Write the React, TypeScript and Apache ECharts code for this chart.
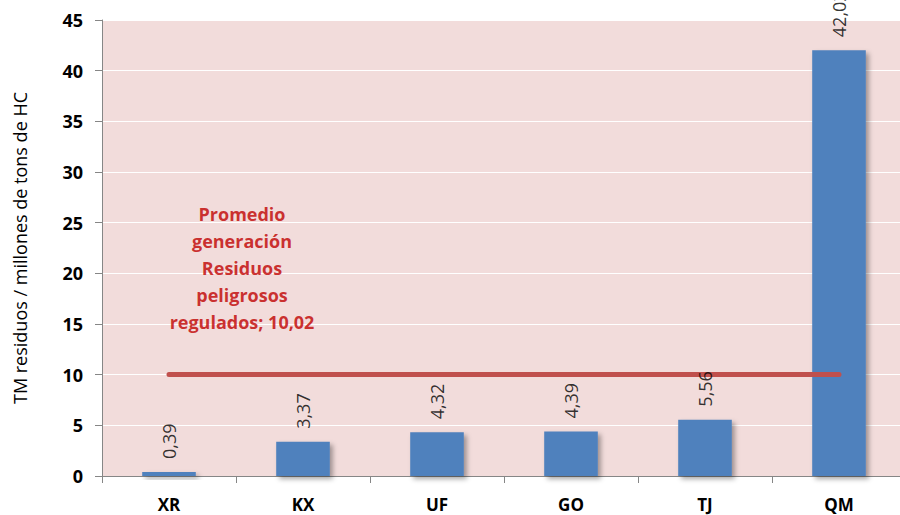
import React, { useEffect, useRef } from "react";
import * as echarts from "echarts";

const categories = ["XR", "KX", "UF", "GO", "TJ", "QM"];
const values = [0.39, 3.37, 4.32, 4.39, 5.56, 42.02];
const averageValue = 10.02;
const averageName = "Promedio\ngeneración\nResiduos\npeligrosos\nregulados";
const yAxisTitle = "TM residuos / millones de tons de HC";

const fmt = (v: number) => v.toFixed(2).replace(".", ",");

export default function App() {
  const ref = useRef<HTMLDivElement>(null);
  useEffect(() => {
    if (!ref.current) return;
    const chart = echarts.init(ref.current, null, { renderer: "svg" });
    const font = "'Open Sans', 'Liberation Sans', sans-serif";
    chart.setOption({
      animation: false,
      backgroundColor: "#ffffff",
      textStyle: { fontFamily: font },
      grid: {
        left: 102,
        right: 0,
        top: 20,
        bottom: 39,
        show: true,
        backgroundColor: "#f2dcdb",
        borderWidth: 0,
      },
      xAxis: {
        type: "category",
        data: categories,
        axisLine: { show: true, lineStyle: { color: "#868686", width: 1 } },
        axisTick: { show: true, length: 7, lineStyle: { color: "#868686" } },
        axisLabel: {
          color: "#000",
          fontWeight: "bold",
          fontSize: 17,
          margin: 20,
          fontFamily: font,
        },
      },
      yAxis: {
        type: "value",
        min: 0,
        max: 45,
        interval: 5,
        name: yAxisTitle,
        nameLocation: "middle",
        nameGap: 73,
        nameTextStyle: { color: "#000", fontSize: 18, fontFamily: font },
        axisLine: { show: true, lineStyle: { color: "#868686", width: 1 } },
        axisTick: { show: true, length: 7, lineStyle: { color: "#868686" } },
        axisLabel: {
          color: "#000",
          fontWeight: "bold",
          fontSize: 18,
          margin: 19,
          fontFamily: font,
        },
        splitLine: { show: true, lineStyle: { color: "#ffffff", width: 1 } },
      },
      series: [
        {
          type: "bar",
          data: values,
          barWidth: "40%",
          z: 2,
          itemStyle: {
            color: "#4f81bd",
            shadowColor: "rgba(0,0,0,0.35)",
            shadowBlur: 5,
            shadowOffsetX: 3,
            shadowOffsetY: 3,
          },
        },
        {
          type: "line",
          data: categories.map(() => averageValue),
          symbol: "none",
          z: 3,
          lineStyle: {
            color: "#c0504d",
            width: 5,
            cap: "round",
          },
        },
        {
          type: "scatter",
          data: values,
          symbolSize: 0,
          silent: true,
          z: 5,
          label: {
            show: true,
            position: "top",
            rotate: 90,
            align: "left",
            verticalAlign: "middle",
            distance: 13,
            color: "#000",
            fontSize: 18,
            fontFamily: font,
            formatter: (p: any) => fmt(p.value),
          },
        },
        {
          type: "scatter",
          data: [[0, averageValue]],
          symbolSize: 0,
          silent: true,
          z: 5,
          label: {
            show: true,
            position: "top",
            offset: [73, -34],
            align: "center",
            color: "#c00000",
            fontWeight: "bold",
            fontSize: 18,
            lineHeight: 27,
            fontFamily: font,
            formatter: (p: any) => averageName + "; " + fmt(p.value[1]),
          },
        },
      ],
    });
    return () => chart.dispose();
  }, []);
  return (
    <div
      style={{
        position: "fixed",
        left: 0,
        top: 0,
        width: 900,
        height: 515,
        overflow: "hidden",
        background: "#fff",
      }}
    >
      <div ref={ref} style={{ width: 906, height: 515 }} />
    </div>
  );
}
